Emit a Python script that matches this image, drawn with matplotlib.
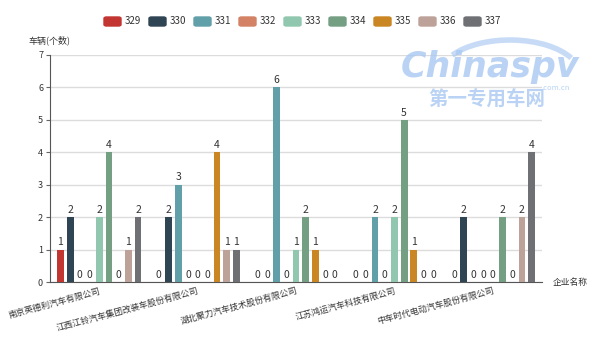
import matplotlib
matplotlib.use("Agg")
import matplotlib.pyplot as plt
from matplotlib.patches import FancyBboxPatch, Arc
import numpy as np

plt.rcParams['font.family'] = ['Noto Sans CJK SC', 'DejaVu Sans']

companies = ["南京英德利汽车有限公司", "江西江铃汽车集团改装车股份有限公司",
             "湖北聚力汽车技术股份有限公司", "江苏鸿运汽车科技有限公司",
             "中车时代电动汽车股份有限公司"]
series_names = ["329", "330", "331", "332", "333", "334", "335", "336", "337"]
values = [
    [1, 0, 0, 0, 0],   # 329
    [2, 2, 0, 0, 2],   # 330
    [0, 3, 6, 2, 0],   # 331
    [0, 0, 0, 0, 0],   # 332
    [2, 0, 1, 2, 0],   # 333
    [4, 0, 2, 5, 2],   # 334
    [0, 4, 1, 1, 0],   # 335
    [1, 1, 0, 0, 2],   # 336
    [2, 1, 0, 0, 4],   # 337
]
colors = ["#c23531", "#2f4554", "#61a0a8", "#d48265", "#91c7ae",
          "#749f83", "#ca8622", "#bda29a", "#6e7074"]

fig = plt.figure(figsize=(6, 3.57), dpi=100)
ax = fig.add_axes([50 / 600, 1 - 282 / 357, 492 / 600, 227 / 357])

x = np.arange(len(companies))
step = 9.7 / 98.4
width = 6.8 / 98.4
for i, (name, vals) in enumerate(zip(series_names, values)):
    pos = x + (i - 4) * step
    bars = ax.bar(pos, vals, width, color=colors[i], label=name, zorder=3)
    for b, v in zip(bars, vals):
        ax.text(b.get_x() + b.get_width() / 2, v + 0.07, str(v), ha='center',
                va='bottom', fontsize=7.5, color='#333333', zorder=4)

ax.set_xlim(-0.5, len(companies) - 0.5)
ax.set_ylim(0, 7)
ax.set_yticks(range(8))
ax.yaxis.grid(True, color='#dcdcdc', linewidth=1, zorder=0)
ax.tick_params(axis='y', labelsize=6.5, colors='#333333', length=3, color='#666666', pad=2)
ax.tick_params(axis='x', length=0, pad=3)
ax.set_xticks(x)
ax.set_xticklabels(companies, rotation=15, ha='right', va='top',
                   rotation_mode='anchor', fontsize=6.2, color='#333333')
for s in ['top', 'right']:
    ax.spines[s].set_visible(False)
ax.spines['left'].set_color('#555555')
ax.spines['bottom'].set_color('#555555')

fig.text(28 / 600, 1 - 40 / 357, "车辆(个数)", fontsize=6.5, color='#333333', va='center')
fig.text(553 / 600, 1 - 283 / 357, "企业名称", fontsize=6.3, color='#333333', va='center')

# legend
lx0 = 104
for i, name in enumerate(series_names):
    bx = lx0 + i * 45
    box = FancyBboxPatch((bx / 600, 1 - 26 / 357), 17 / 600, 9 / 357,
                         boxstyle="round,pad=0,rounding_size=0.004",
                         transform=fig.transFigure, color=colors[i], clip_on=False)
    fig.patches.append(box)
    fig.text((bx + 20.5) / 600, 1 - 21.5 / 357, name, fontsize=7, color='#333333', va='center')

# watermark
wm = '#a9c9f2'
fig.text(490 / 600, 1 - 67 / 357, "Chinaspv", fontsize=25, fontweight='bold', style='italic',
         color=wm, ha='center', va='center', family=['DejaVu Sans'], alpha=0.8, zorder=10)
fig.text(487 / 600, 1 - 100 / 357, "第一专用车网", fontsize=14, fontweight='bold',
         color=wm, ha='center', va='center', alpha=0.8, zorder=10)
fig.text(556 / 600, 1 - 88 / 357, ".com.cn", fontsize=5.5, color=wm, ha='center',
         va='center', alpha=0.8, zorder=10)
arc = Arc((510 / 600, 1 - 75 / 357), 140 / 600, 70 / 357, theta1=25, theta2=150,
          transform=fig.transFigure, color=wm, linewidth=4, alpha=0.65)
fig.patches.append(arc)

fig.savefig("out.png", dpi=100)
